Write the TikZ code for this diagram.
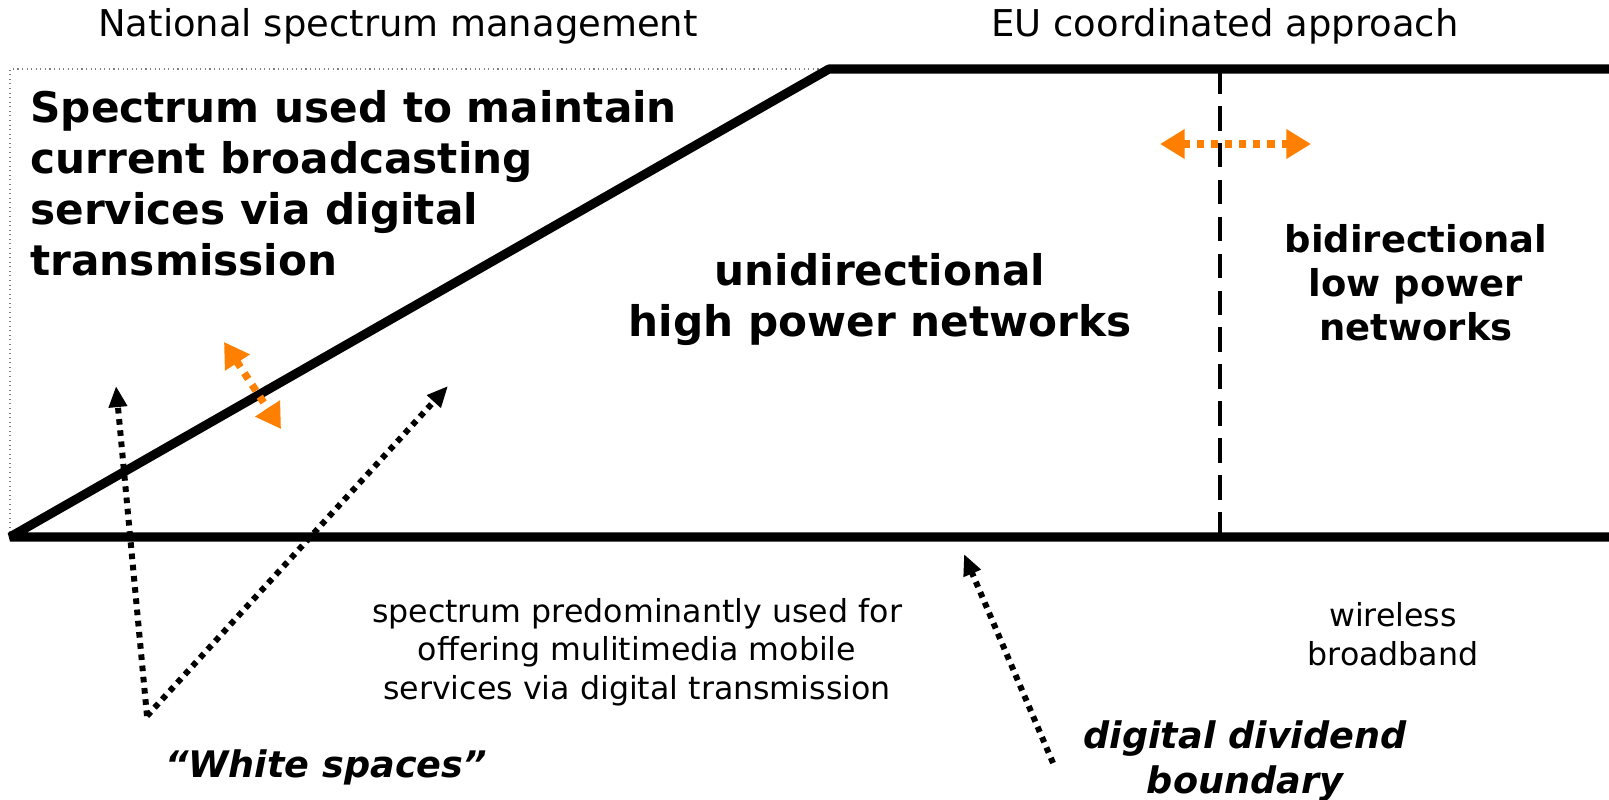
\documentclass[tikz,border=0pt]{standalone}
\usepackage{fontspec}
\setmainfont{DejaVu Sans}
\usepackage{xcolor}
\usetikzlibrary{arrows.meta}
\definecolor{swaporange}{RGB}{255,128,0}

\begin{document}
\begin{tikzpicture}[x=0.01cm, y=-0.01cm,
    band/.style={line width=2.6pt, line join=bevel},
    split/.style={line width=0.9pt, dash pattern=on 7pt off 3.5pt},
    pointer/.style={line width=1.7pt, dash pattern=on 1.6pt off 1.6pt,
        -{Triangle[length=6pt, width=5pt]}},
    swap/.style={swaporange, line width=2.1pt, dash pattern=on 2pt off 2pt,
        {Triangle[length=7pt, width=8pt]}-{Triangle[length=7pt, width=8pt]}},
    head/.style={font=\fontsize{10.5}{12.5}\selectfont},
    big/.style={font=\fontsize{12}{14.5}\selectfont\bfseries, align=left},
    mid/.style={font=\fontsize{10.5}{12.5}\selectfont\bfseries, align=center},
    small/.style={font=\fontsize{9}{11}\selectfont, align=center},
    tag/.style={font=\fontsize{10.4}{13}\selectfont\bfseries\itshape, align=center}]
    \useasboundingbox (0,0) rectangle (1609,800);

    % headings
    \node[head] (nat) at (398,26) {National spectrum management};
    \node[head] (eu) at (1225,26) {EU coordinated approach};

    % national area, dotted frame
    \draw[gray, densely dotted, line width=0.3pt] (10,537) -- (10,69) -- (829,69);

    % band outline
    \draw[band] (1609,69) -- (829,69) -- (10,537) -- (1609,537);
    \draw[split] (1220,69) -- (1220,537);

    % texts inside the band
    \node[big, anchor=west] (bcast) at (18,183)
        {Spectrum used to maintain\\current broadcasting\\services via digital\\transmission};
    \node[big, align=center] (uni) at (880,300) {unidirectional\\high power networks};
    \node[mid] (bidi) at (1416,283) {bidirectional\\low power\\networks};

    % texts below the band
    \node[small] (mobile) at (637,652)
        {spectrum predominantly used for\\offering mulitimedia mobile\\services via digital transmission};
    \node[small] (wless) at (1393,634) {wireless\\broadband};
    \node[tag] (white) at (326,767) {``White spaces''};
    \node[tag] (dd) at (1245,761) {digital dividend\\boundary};

    % white spaces pointers
    \coordinate (ws) at (147,716);
    \coordinate (wsA) at (116,386);
    \coordinate (wsB) at (448,386);
    \draw[pointer] (ws) -- (wsA);
    \draw[pointer] (ws) -- (wsB);

    % digital dividend pointer
    \coordinate (ddFoot) at (1053,763);
    \coordinate (ddTip) at (964,554);
    \draw[pointer] (ddFoot) -- (ddTip);

    % movable boundaries
    \coordinate (bA) at (224,342);
    \coordinate (bB) at (281,429);
    \draw[swap] (bA) -- (bB);
    \coordinate (eA) at (1160,144);
    \coordinate (eB) at (1311,144);
    \draw[swap] (eA) -- (eB);
\end{tikzpicture}
\end{document}
